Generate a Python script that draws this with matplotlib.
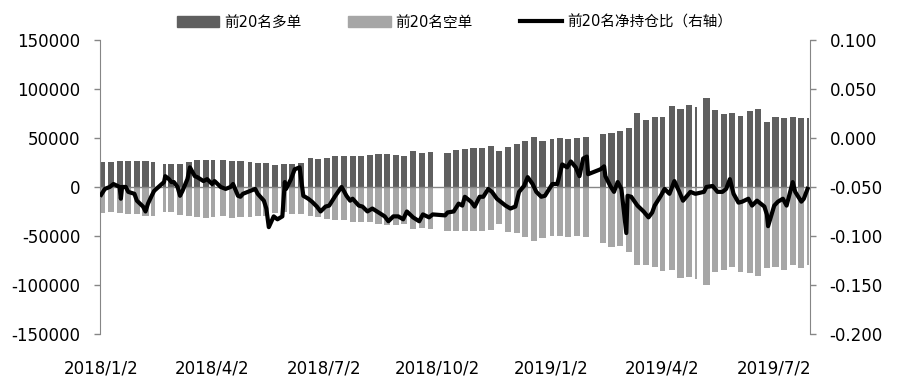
import numpy as np
import pandas as pd
import matplotlib
matplotlib.use('Agg')
import matplotlib.pyplot as plt
import matplotlib.dates as mdates
from matplotlib.patches import Patch
from matplotlib.lines import Line2D

plt.rcParams['font.family'] = ['DejaVu Sans', 'Noto Sans CJK SC']
plt.rcParams['axes.unicode_minus'] = False

#%% data (weekly long / short)
week_start = pd.date_range('2018-01-01', '2019-07-29', freq='W-MON')

long_vals = [25500, 25000, 26000, 26500, 26500, 26000, 25000, 23000, 23500, 23000,
             25000, 27000, 27500, 27500, 27000, 26000, 26000, 25000, 24500, 24000,
             22000, 23000, 23500, 24000, 30000, 28500, 29500, 31500, 31500, 31500,
             31500, 33000, 33500, 33500, 32500, 31500, 36500, 35000, 36000, np.nan,
             35000, 37500, 39000, 40000, 40000, 42000, 37000, 41000, 43500, 47000,
             51000, 47000, 49000, 50000, 49000, 50000, 51000, np.nan, 54000, 55000,
             57000, 60000, 75000, 68000, 71000, 71000, 83000, 80000, 84000, 82000,
             91000, 78000, 74000, 75000, 72000, 77000, 80000, 66000, 71000, 70000,
             71000, 70000, 70000]

short_vals = [-27000, -26000, -27000, -28000, -28000, -29500, -30000, -26000, -26000, -29000,
              -30000, -31000, -31500, -31000, -30000, -31500, -31000, -31000, -30000, -29500,
              -27000, -26000, -28000, -28000, -29500, -31000, -32500, -34000, -34000, -36000,
              -36000, -36000, -38000, -39000, -38500, -38000, -43000, -42000, -43000, np.nan,
              -45000, -45000, -45000, -45000, -45000, -44000, -38000, -46000, -47000, -51000,
              -55000, -52000, -50000, -50000, -51000, -50000, -51000, np.nan, -57000, -61000,
              -60000, -66000, -80000, -80000, -82000, -86000, -85000, -93000, -92000, -94000,
              -100000, -87000, -85000, -82000, -87000, -88000, -91000, -83000, -82000, -85000,
              -80000, -83000, -80000]

holidays = ['2018-01-01', '2018-02-15', '2018-02-16', '2018-02-19', '2018-02-20', '2018-02-21',
            '2018-04-05', '2018-04-06', '2018-04-30', '2018-05-01', '2018-06-18', '2018-09-24',
            '2018-10-01', '2018-10-02', '2018-10-03', '2018-10-04', '2018-10-05',
            '2018-12-31', '2019-01-01', '2019-02-04', '2019-02-05', '2019-02-06', '2019-02-07',
            '2019-02-08', '2019-04-05', '2019-05-01', '2019-05-02', '2019-05-03', '2019-06-07']
last_day = '2019-07-30'

line_dates = ['2018-01-02', '2018-01-05', '2018-01-09', '2018-01-12', '2018-01-17', '2018-01-18',
              '2018-01-19', '2018-01-22', '2018-01-24', '2018-01-29', '2018-01-31', '2018-02-05',
              '2018-02-07', '2018-02-09', '2018-02-12', '2018-02-14', '2018-02-22', '2018-02-23',
              '2018-02-26', '2018-02-28', '2018-03-02', '2018-03-05', '2018-03-07', '2018-03-09',
              '2018-03-13', '2018-03-15', '2018-03-19', '2018-03-21', '2018-03-26', '2018-03-29',
              '2018-04-02', '2018-04-04', '2018-04-09', '2018-04-13', '2018-04-17', '2018-04-19',
              '2018-04-23', '2018-04-25', '2018-04-27', '2018-05-03', '2018-05-07', '2018-05-09',
              '2018-05-14', '2018-05-16', '2018-05-18', '2018-05-22', '2018-05-25', '2018-05-29',
              '2018-05-31', '2018-06-01', '2018-06-05', '2018-06-08', '2018-06-12', '2018-06-15',
              '2018-06-19', '2018-06-22', '2018-06-26', '2018-06-29', '2018-07-03', '2018-07-06',
              '2018-07-11', '2018-07-16', '2018-07-17', '2018-07-20', '2018-07-23', '2018-07-25',
              '2018-07-30', '2018-08-02', '2018-08-06', '2018-08-10', '2018-08-15', '2018-08-20',
              '2018-08-23', '2018-08-27', '2018-08-31', '2018-09-04', '2018-09-07', '2018-09-12',
              '2018-09-17', '2018-09-20', '2018-09-25', '2018-09-28', '2018-10-08', '2018-10-10',
              '2018-10-15', '2018-10-19', '2018-10-22', '2018-10-24', '2018-10-29', '2018-11-01',
              '2018-11-05', '2018-11-08', '2018-11-12', '2018-11-15', '2018-11-19', '2018-11-22',
              '2018-11-26', '2018-11-30', '2018-12-04', '2018-12-07', '2018-12-11', '2018-12-14',
              '2018-12-18', '2018-12-21', '2018-12-25', '2018-12-28', '2019-01-03', '2019-01-07',
              '2019-01-09', '2019-01-11', '2019-01-15', '2019-01-18', '2019-01-22', '2019-01-25',
              '2019-01-28', '2019-01-31', '2019-02-01', '2019-02-11', '2019-02-14', '2019-02-15',
              '2019-02-19', '2019-02-22', '2019-02-25', '2019-02-28', '2019-03-04', '2019-03-05',
              '2019-03-08', '2019-03-13', '2019-03-18', '2019-03-22', '2019-03-25', '2019-03-27',
              '2019-04-01', '2019-04-04', '2019-04-08', '2019-04-12', '2019-04-16', '2019-04-19',
              '2019-04-25', '2019-04-29', '2019-05-06', '2019-05-08', '2019-05-13', '2019-05-17',
              '2019-05-21', '2019-05-24', '2019-05-27', '2019-05-30', '2019-06-03', '2019-06-06',
              '2019-06-11', '2019-06-14', '2019-06-18', '2019-06-24', '2019-06-26', '2019-06-27',
              '2019-07-02', '2019-07-05', '2019-07-09', '2019-07-12', '2019-07-17', '2019-07-19',
              '2019-07-24', '2019-07-26', '2019-07-29']

line_vals = [-0.058, -0.052, -0.050, -0.047, -0.050, -0.062,
             -0.050, -0.050, -0.055, -0.057, -0.064, -0.070,
             -0.075, -0.067, -0.059, -0.054, -0.045, -0.039,
             -0.042, -0.045, -0.045, -0.050, -0.059, -0.054,
             -0.042, -0.030, -0.039, -0.040, -0.044, -0.042,
             -0.047, -0.044, -0.050, -0.052, -0.050, -0.047,
             -0.059, -0.060, -0.057, -0.054, -0.052, -0.057,
             -0.064, -0.072, -0.091, -0.080, -0.083, -0.080,
             -0.045, -0.052, -0.042, -0.032, -0.030, -0.059,
             -0.062, -0.065, -0.070, -0.075, -0.070, -0.069,
             -0.059, -0.050, -0.052, -0.059, -0.064, -0.062,
             -0.069, -0.070, -0.075, -0.072, -0.076, -0.080,
             -0.085, -0.080, -0.080, -0.083, -0.075, -0.081,
             -0.085, -0.078, -0.081, -0.078, -0.079, -0.076,
             -0.075, -0.067, -0.069, -0.060, -0.065, -0.070,
             -0.060, -0.060, -0.052, -0.055, -0.062, -0.065,
             -0.069, -0.072, -0.070, -0.055, -0.049, -0.040,
             -0.047, -0.055, -0.060, -0.059, -0.047, -0.047,
             -0.037, -0.027, -0.030, -0.024, -0.030, -0.039,
             -0.021, -0.019, -0.037, -0.032, -0.029, -0.039,
             -0.049, -0.055, -0.045, -0.052, -0.097, -0.059,
             -0.060, -0.069, -0.075, -0.081, -0.076, -0.069,
             -0.059, -0.052, -0.057, -0.044, -0.055, -0.064,
             -0.055, -0.057, -0.055, -0.050, -0.049, -0.055,
             -0.055, -0.052, -0.042, -0.057, -0.066, -0.065,
             -0.062, -0.069, -0.064, -0.070, -0.078, -0.090,
             -0.069, -0.065, -0.062, -0.069, -0.045, -0.055,
             -0.065, -0.062, -0.052]

x_ticks = ['2018-01-02', '2018-04-02', '2018-07-02', '2018-10-02',
           '2019-01-02', '2019-04-02', '2019-07-02']
x_labels = ['2018/1/2', '2018/4/2', '2018/7/2', '2018/10/2',
            '2019/1/2', '2019/4/2', '2019/7/2']

labels = ['前20名多单', '前20名空单', '前20名净持仓比（右轴）']

c_long = '#5f5f5f'
c_short = '#a6a6a6'
c_axis = '#868686'

#%% figure
fig = plt.figure(figsize=(9, 3.8), dpi=100)
ax = fig.add_axes([0.111, 0.121, 0.789, 0.774])

hol = np.array(holidays, dtype='datetime64[D]')
end = np.datetime64(last_day)
for w, lv, sv in zip(week_start, long_vals, short_vals):
    days = [np.datetime64(w.date()) + np.timedelta64(i, 'D') for i in range(5)]
    days = [d for d in days if d not in hol and d <= end]
    if not days or np.isnan(lv):
        continue
    x0 = mdates.date2num(days[0].astype('datetime64[ms]').astype(object)) - 0.5
    wd = (days[-1] - days[0]).astype(int) + 1
    ax.bar(x0, lv, width=wd, align='edge', color=c_long, linewidth=0)
    ax.bar(x0, sv, width=wd, align='edge', color=c_short, linewidth=0)

ax.axhline(0, color=c_axis, lw=1.0, zorder=1)
ax.set_ylim(-150000, 150000)
ax.set_yticks(np.arange(-150000, 150001, 50000))
ax.set_xlim(mdates.date2num(pd.Timestamp('2018-01-01')),
            mdates.date2num(pd.Timestamp('2019-07-31')))
ax.set_xticks([mdates.date2num(pd.Timestamp(d)) for d in x_ticks])
ax.set_xticklabels(x_labels)
ax.tick_params(axis='x', length=0, pad=18, labelsize=12)
ax.tick_params(axis='y', direction='out', length=4, width=1, color=c_axis,
               pad=10, labelsize=12)
for s in ['top', 'bottom', 'right']:
    ax.spines[s].set_visible(False)
ax.spines['left'].set_color(c_axis)

ax2 = ax.twinx()
ax2.plot(pd.to_datetime(line_dates), line_vals, color='black', lw=3,
         solid_joinstyle='round')
ax2.set_ylim(-0.2, 0.1)
ax2.set_yticks(np.arange(-0.2, 0.1001, 0.05))
ax2.yaxis.set_major_formatter(plt.FuncFormatter(lambda v, p: '%.3f' % (round(v, 3) + 0.0)))
ax2.tick_params(axis='y', direction='out', length=4, width=1, color=c_axis,
                pad=10, labelsize=12)
for s in ['top', 'bottom', 'left']:
    ax2.spines[s].set_visible(False)
ax2.spines['right'].set_color(c_axis)
ax2.set_xlim(ax.get_xlim())

handles = [Patch(color=c_long), Patch(color=c_short),
           Line2D([], [], color='black', lw=3)]
fig.legend(handles, labels, loc='center', bbox_to_anchor=(0.505, 0.942), ncol=3,
           frameon=False, fontsize=10.5, handlelength=2.9, handleheight=0.7,
           handletextpad=0.35, columnspacing=3.2)

fig.savefig('out.png', dpi=100)
